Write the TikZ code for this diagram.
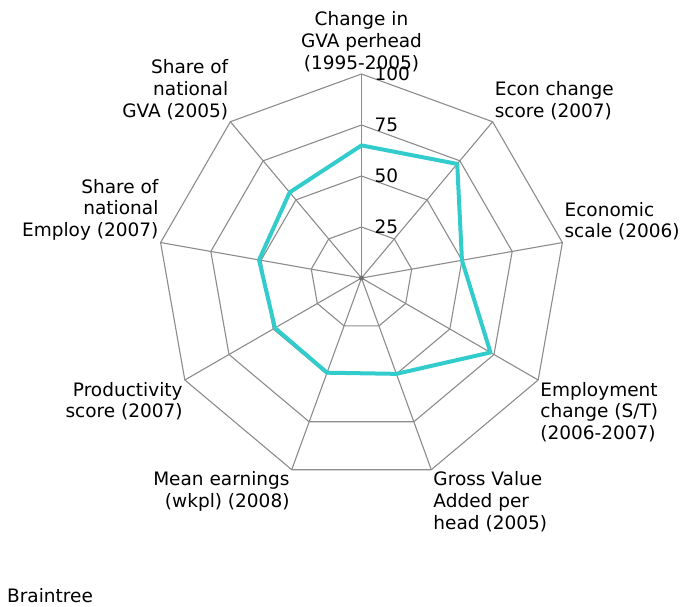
\documentclass[tikz,border=0pt]{standalone}
\usepackage{fontspec}
\setmainfont{DejaVu Sans}
\definecolor{gridgray}{HTML}{8C8C8C}
\definecolor{seriescyan}{HTML}{33CCCC}

\tikzset{
  grid/.style={draw=gridgray, line width=1.1pt},
  series/.style={draw=seriescyan, line width=4pt, line join=round},
  lbl/.style={font=\fontsize{18.5}{21.7}\selectfont, inner sep=2pt},
  tick/.style={font=\fontsize{18.5}{21.7}\selectfont, inner sep=0pt, anchor=west},
}

\begin{document}
\begin{tikzpicture}[x=1pt,y=1pt]
    \useasboundingbox (0,0) rectangle (688,606);

    \begin{scope}[shift={(361.5,328)}]
        % rings
        \foreach \r in {51,102,153,204}
            \draw[grid] (90:\r) \foreach \i in {1,...,8}{ -- (90-40*\i:\r)} -- cycle;

        % spokes
        \foreach \i in {0,...,8}
            \draw[grid] (0,0) -- (90-40*\i:204);
        \fill[gridgray!80!black] (0,0) circle (2.5);

        % data
        \draw[series] (90:65*2.04) -- (50:73*2.04) -- (10:50*2.04) -- (-30:73*2.04)
            -- (-70:50*2.04) -- (-110:49.4*2.04) -- (-150:49*2.04)
            -- (170:51*2.04) -- (130:54.8*2.04) -- cycle;

        % scale
        \foreach \v in {25,50,75,100}
            \node[tick] (tick\v) at ([xshift=13pt]90:\v*2.04) {\v};

        % axis labels
        \node[lbl, anchor=south, align=center] (gvachange) at (90:204)
            {Change in\\GVA perhead\\(1995-2005)};
        \node[lbl, anchor=south west, align=left] (econchange) at (50:204)
            {Econ change\\score (2007)};
        \node[lbl, anchor=south west, align=left] (econscale) at (10:204)
            {Economic\\scale (2006)};
        \node[lbl, anchor=north west, align=left] (empchange) at (-30:204)
            {Employment\\change (S/T)\\(2006-2007)};
        \node[lbl, anchor=north west, align=left] (gvahead) at (-70:204)
            {Gross Value\\Added per\\head (2005)};
        \node[lbl, anchor=north east, align=right] (earnings) at (-110:204)
            {Mean earnings\\(wkpl) (2008)};
        \node[lbl, anchor=north east, align=right] (productivity) at (-150:204)
            {Productivity\\score (2007)};
        \node[lbl, anchor=south east, align=right] (shareemp) at (170:204)
            {Share of\\national\\Employ (2007)};
        \node[lbl, anchor=south east, align=right] (sharegva) at (130:204)
            {Share of\\national\\GVA (2005)};
    \end{scope}

    \node[lbl, anchor=west, inner sep=0pt] (place) at (7,10) {Braintree};
\end{tikzpicture}
\end{document}
